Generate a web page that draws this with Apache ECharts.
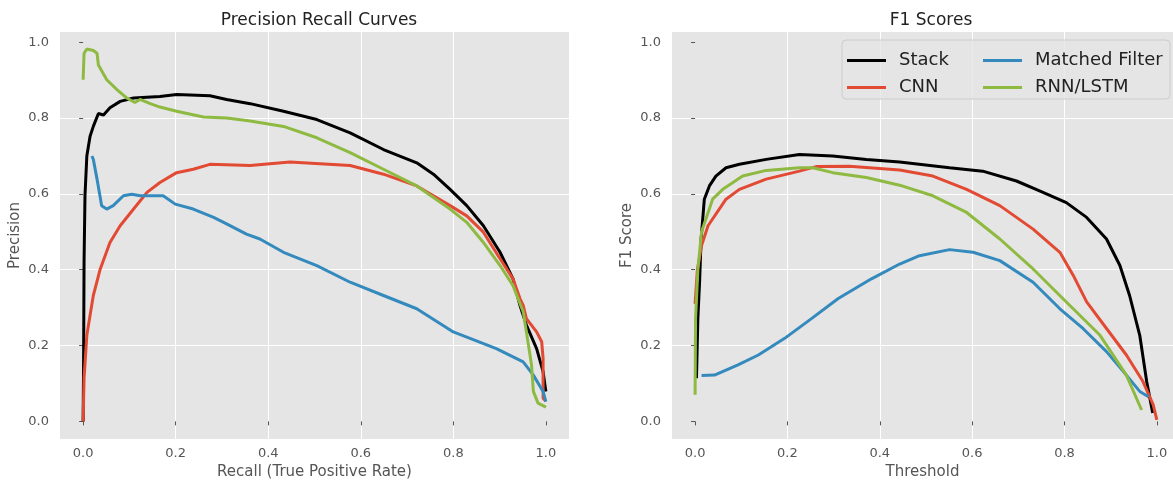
<!DOCTYPE html>
<html>
<head>
<meta charset="utf-8">
<script src="https://cdn.jsdelivr.net/npm/echarts@6/dist/echarts.min.js"></script>
<style>
    html, body { margin: 0; padding: 0; background: #fff; }
    #chart { width: 1173px; height: 485px; }
</style>
</head>
<body>
<div id="chart"></div>
<script>
// tick values shared by both panels
const tickValues = [0, 0.2, 0.4, 0.6, 0.8, 1.0];

// precision / recall curves, [recall, precision]
const prStack = [[0, 0], [0.001, 0.158], [0.002, 0.42], [0.004, 0.595], [0.008, 0.70], [0.015, 0.752], [0.022, 0.778],
    [0.033, 0.812], [0.044, 0.808], [0.058, 0.827], [0.08, 0.844], [0.109, 0.853], [0.166, 0.857], [0.202, 0.862],
    [0.274, 0.859], [0.31, 0.849], [0.361, 0.838], [0.433, 0.818], [0.505, 0.796], [0.577, 0.761], [0.649, 0.717],
    [0.721, 0.682], [0.757, 0.652], [0.793, 0.612], [0.829, 0.569], [0.865, 0.516], [0.901, 0.446], [0.929, 0.376],
    [0.944, 0.306], [0.958, 0.254], [0.98, 0.192], [0.994, 0.131], [1.0, 0.079]];
const prCnn = [[0, 0], [0.002, 0.114], [0.008, 0.227], [0.015, 0.28], [0.022, 0.332], [0.037, 0.402], [0.058, 0.472],
    [0.08, 0.516], [0.109, 0.56], [0.138, 0.604], [0.166, 0.63], [0.202, 0.656], [0.238, 0.665], [0.274, 0.678],
    [0.361, 0.675], [0.447, 0.684], [0.577, 0.675], [0.649, 0.652], [0.721, 0.621], [0.793, 0.569], [0.829, 0.542],
    [0.865, 0.499], [0.901, 0.429], [0.929, 0.376], [0.944, 0.324], [0.951, 0.306], [0.958, 0.271], [0.98, 0.236],
    [0.991, 0.21], [0.994, 0.166], [0.994, 0.061], [1.0, 0.053]];
const prMatched = [[0.019, 0.70], [0.022, 0.691], [0.03, 0.639], [0.04, 0.569], [0.051, 0.56], [0.065, 0.569],
    [0.087, 0.595], [0.105, 0.599], [0.123, 0.595], [0.173, 0.595], [0.199, 0.573], [0.238, 0.56], [0.282, 0.538],
    [0.31, 0.521], [0.353, 0.494], [0.382, 0.481], [0.433, 0.446], [0.505, 0.411], [0.577, 0.367], [0.649, 0.332],
    [0.721, 0.297], [0.80, 0.236], [0.893, 0.192], [0.951, 0.157], [0.973, 0.122], [0.994, 0.079], [1.0, 0.052]];
const prRnn = [[0, 0.901], [0.002, 0.971], [0.008, 0.982], [0.022, 0.978], [0.03, 0.971], [0.033, 0.94], [0.051, 0.901],
    [0.073, 0.875], [0.094, 0.853], [0.112, 0.841], [0.123, 0.849], [0.145, 0.838], [0.166, 0.829], [0.202, 0.818],
    [0.26, 0.803], [0.31, 0.80], [0.361, 0.792], [0.433, 0.778], [0.505, 0.748], [0.577, 0.709], [0.649, 0.665],
    [0.721, 0.621], [0.793, 0.56], [0.829, 0.525], [0.865, 0.472], [0.901, 0.411], [0.929, 0.358], [0.951, 0.289],
    [0.958, 0.236], [0.969, 0.149], [0.973, 0.079], [0.983, 0.048], [0.998, 0.039], [1.0, 0.037]];

// f1 score vs threshold, [threshold, f1]
const f1Stack = [[0.003, 0.114], [0.006, 0.271], [0.01, 0.376], [0.013, 0.48], [0.02, 0.586], [0.031, 0.621],
    [0.045, 0.647], [0.067, 0.669], [0.096, 0.678], [0.154, 0.691], [0.226, 0.704], [0.298, 0.70], [0.371, 0.691],
    [0.443, 0.684], [0.551, 0.669], [0.623, 0.66], [0.696, 0.634], [0.746, 0.608], [0.804, 0.577], [0.848, 0.538],
    [0.891, 0.481], [0.92, 0.411], [0.941, 0.332], [0.963, 0.227], [0.978, 0.105], [0.991, 0.022]];
const f1Cnn = [[0, 0.31], [0.005, 0.40], [0.014, 0.464], [0.028, 0.516], [0.067, 0.586], [0.096, 0.612], [0.154, 0.639],
    [0.226, 0.66], [0.262, 0.672], [0.334, 0.673], [0.443, 0.663], [0.515, 0.647], [0.588, 0.612], [0.66, 0.569],
    [0.732, 0.507], [0.79, 0.446], [0.819, 0.385], [0.848, 0.315], [0.891, 0.245], [0.934, 0.175], [0.97, 0.105],
    [0.992, 0.044], [1.0, 0.004]];
const f1Matched = [[0.014, 0.121], [0.042, 0.122], [0.093, 0.149], [0.137, 0.175], [0.194, 0.219], [0.252, 0.271],
    [0.31, 0.324], [0.382, 0.376], [0.443, 0.415], [0.486, 0.437], [0.551, 0.453], [0.602, 0.446], [0.66, 0.424],
    [0.732, 0.367], [0.79, 0.297], [0.84, 0.245], [0.891, 0.184], [0.934, 0.122], [0.963, 0.079], [0.982, 0.065]];
const f1Rnn = [[0, 0.07], [0.001, 0.27], [0.006, 0.40], [0.014, 0.50], [0.038, 0.586], [0.06, 0.612], [0.103, 0.647],
    [0.154, 0.662], [0.226, 0.669], [0.255, 0.669], [0.298, 0.656], [0.371, 0.643], [0.443, 0.623], [0.515, 0.595],
    [0.588, 0.551], [0.66, 0.481], [0.732, 0.402], [0.804, 0.315], [0.877, 0.227], [0.934, 0.122], [0.967, 0.03]];

const names = ['Stack', 'CNN', 'Matched Filter', 'RNN/LSTM'];
const colors = ['#000000', '#E24A33', '#348ABD', '#8EBA42'];

const font = 'DejaVu Sans';

const makeX = (gridIndex, max, name) => ({
    type: 'value',
    gridIndex,
    min: -0.05,
    max,
    name,
    nameLocation: 'middle',
    nameGap: 26,
    nameTextStyle: { color: '#555', fontSize: 15, fontFamily: font },
    axisLine: { show: false },
    axisTick: { show: true, length: 4, lineStyle: { color: '#555' }, customValues: tickValues },
    axisLabel: {
        color: '#555', fontSize: 13, fontFamily: font, margin: 8,
        customValues: tickValues,
        formatter: (v) => v.toFixed(1),
    },
    splitLine: { show: true, showMinLine: false, showMaxLine: false, lineStyle: { color: '#fff', width: 1 } },
});

const makeY = (gridIndex, name) => ({
    type: 'value',
    gridIndex,
    min: -0.0465,
    max: 1.027,
    name,
    nameLocation: 'middle',
    nameGap: 37,
    nameTextStyle: { color: '#555', fontSize: 15, fontFamily: font },
    axisLine: { show: false },
    axisTick: { show: true, length: 4, lineStyle: { color: '#555' }, customValues: tickValues },
    axisLabel: {
        color: '#555', fontSize: 13, fontFamily: font, margin: 11,
        customValues: tickValues,
        formatter: (v) => v.toFixed(1),
    },
    splitLine: { show: true, showMinLine: false, showMaxLine: false, lineStyle: { color: '#fff', width: 1 } },
});

const makeLine = (name, data, idx) => ({
    name,
    type: 'line',
    xAxisIndex: idx,
    yAxisIndex: idx,
    data,
    symbol: 'none',
    color: colors[names.indexOf(name)],
    lineStyle: { width: 3 },
    clip: true,
});

// plain bar icon, like a matplotlib legend handle
const legendStyle = {
    orient: 'vertical',
    top: 45,
    icon: 'rect',
    itemWidth: 39,
    itemHeight: 3,
    itemGap: 6,
    textStyle: { color: '#222', fontSize: 18, fontFamily: font, padding: [0, 0, 0, 8], lineHeight: 21 },
    z: 5,
};

const option = {
    animation: false,
    backgroundColor: '#fff',
    title: [
        { text: 'Precision Recall Curves', left: 314, top: 7, textAlign: 'center',
          textStyle: { color: '#222', fontSize: 17, fontWeight: 'normal', fontFamily: font } },
        { text: 'F1 Scores', left: 926, top: 7, textAlign: 'center',
          textStyle: { color: '#222', fontSize: 17, fontWeight: 'normal', fontFamily: font } },
    ],
    grid: [
        { left: 60, top: 32, width: 509, height: 409, show: true, backgroundColor: '#E5E5E5', borderWidth: 0 },
        { left: 672, top: 32, width: 501, height: 409, show: true, backgroundColor: '#E5E5E5', borderWidth: 0 },
    ],
    xAxis: [makeX(0, 1.05, 'Recall (True Positive Rate)'), makeX(1, 1.035, 'Threshold')],
    yAxis: [makeY(0, 'Precision'), makeY(1, 'F1 Score')],
    legend: [
        { ...legendStyle, left: 842, data: ['Stack', 'CNN'] },
        { ...legendStyle, left: 978, data: ['Matched Filter', 'RNN/LSTM'] },
    ],
    graphic: [{
        type: 'rect',
        z: 4,
        shape: { x: 842, y: 40, width: 328, height: 59, r: 4 },
        style: { fill: 'rgba(229,229,229,0.8)', stroke: '#cccccc', lineWidth: 1 },
    }],
    series: [
        makeLine('Stack', prStack, 0),
        makeLine('CNN', prCnn, 0),
        makeLine('Matched Filter', prMatched, 0),
        makeLine('RNN/LSTM', prRnn, 0),
        makeLine('Stack', f1Stack, 1),
        makeLine('CNN', f1Cnn, 1),
        makeLine('Matched Filter', f1Matched, 1),
        makeLine('RNN/LSTM', f1Rnn, 1),
    ],
};

const myChart = echarts.init(document.getElementById('chart'), null, { renderer: 'canvas' });
myChart.setOption(option);
window.onresize = myChart.resize;
</script>
</body>
</html>
